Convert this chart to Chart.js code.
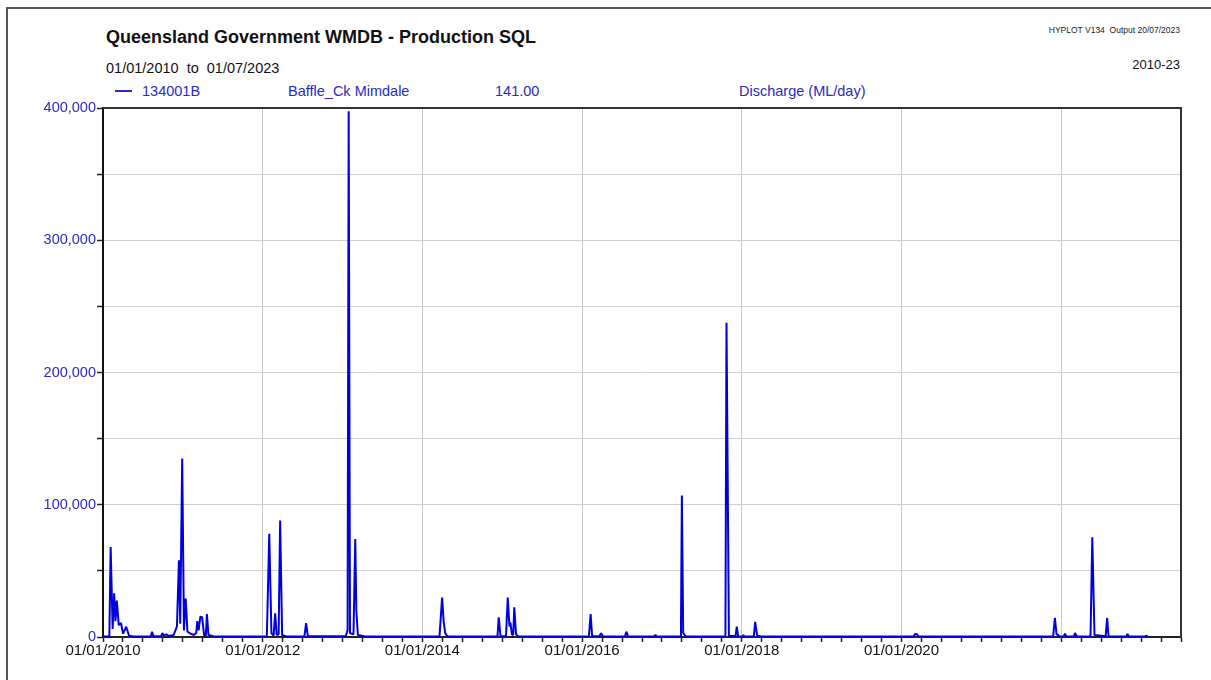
<!DOCTYPE html>
<html>
<head>
<meta charset="utf-8">
<script src="https://cdn.jsdelivr.net/npm/chart.js@4/dist/chart.umd.min.js"></script>
<style>
  html, body { margin: 0; padding: 0; background: #fff; }
  body { width: 1211px; height: 680px; position: relative; overflow: hidden;
         font-family: "Liberation Sans", Arial, sans-serif; }
  #frame { position: absolute; left: 6px; top: 7px; width: 1300px; height: 800px;
           border-left: 2px solid #555; border-top: 2px solid #555; }
  .t { position: absolute; white-space: pre; line-height: 1; }
  #title { left: 106px; top: 28px; font-size: 18px; font-weight: bold; color: #111; }
  #range { left: 106px; top: 61px; font-size: 14.5px; color: #111; }
  #hyplot { right: 31px; top: 26px; font-size: 8.5px; color: #222; }
  #period { right: 31px; top: 58px; font-size: 13px; color: #111; }
  .lg { top: 84px; font-size: 14.5px; color: #2a2ac0; }
  #lgline { position: absolute; left: 115px; top: 90px; width: 17px; height: 2px; background: #2a2ac0; }
  canvas { position: absolute; left: 0; top: 0; }
</style>
</head>
<body>
<div id="frame"></div>
<div class="t" id="title">Queensland Government WMDB - Production SQL</div>
<div class="t" id="range">01/01/2010  to  01/07/2023</div>
<div class="t" id="hyplot">HYPLOT V134  Output 20/07/2023</div>
<div class="t" id="period">2010-23</div>
<div id="lgline"></div>
<div class="t lg" style="left:142px">134001B</div>
<div class="t lg" style="left:288px">Baffle_Ck Mimdale</div>
<div class="t lg" style="left:495px">141.00</div>
<div class="t lg" style="left:739px">Discharge (ML/day)</div>
<canvas id="c" width="1211" height="680"></canvas>
<script>
// ---- data (daily discharge, ML/day) ----
const dates = [
  "2010-01-01","2010-01-30","2010-02-05","2010-02-14","2010-02-21","2010-02-27","2010-03-05","2010-03-14",
  "2010-03-24","2010-04-03","2010-04-17","2010-04-30","2010-05-20","2010-08-08","2010-08-13","2010-08-20",
  "2010-09-24","2010-09-29","2010-10-06","2010-10-18","2010-10-28","2010-11-20","2010-12-05","2010-12-14",
  "2010-12-20","2010-12-29","2011-01-06","2011-01-14","2011-01-22","2011-02-05","2011-02-20","2011-03-03",
  "2011-03-08","2011-03-14","2011-03-22","2011-03-30","2011-04-08","2011-04-16","2011-04-21","2011-04-28",
  "2011-05-20","2011-08-01","2012-01-20","2012-01-31","2012-02-10","2012-02-20","2012-02-27","2012-03-05",
  "2012-03-14","2012-03-21","2012-03-30","2012-04-20","2012-07-10","2012-07-18","2012-07-26","2013-01-15",
  "2013-01-24","2013-01-29","2013-02-04","2013-02-20","2013-02-28","2013-03-05","2013-03-12","2013-04-10",
  "2014-03-20","2014-04-01","2014-04-08","2014-04-15","2014-04-25","2014-12-10","2014-12-16","2014-12-24",
  "2015-01-18","2015-01-26","2015-02-03","2015-02-07","2015-02-14","2015-02-20","2015-02-25","2015-03-05",
  "2015-03-15","2016-02-01","2016-02-09","2016-02-16","2016-03-20","2016-03-28","2016-04-05","2016-07-15",
  "2016-07-22","2016-07-30","2016-11-25","2016-12-02","2016-12-09","2017-03-25","2017-03-29","2017-04-02",
  "2017-04-08","2017-04-20","2017-10-18","2017-10-23","2017-11-03","2017-12-03","2017-12-09","2017-12-15",
  "2018-01-03","2018-01-08","2018-01-14","2018-02-25","2018-03-03","2018-03-12","2018-04-01","2020-02-25",
  "2020-03-03","2020-03-12","2020-03-20","2021-11-25","2021-12-03","2021-12-11","2021-12-16","2021-12-24",
  "2022-01-12","2022-01-18","2022-01-25","2022-02-28","2022-03-05","2022-03-12","2022-03-25","2022-05-15",
  "2022-05-23","2022-06-02","2022-07-23","2022-07-30","2022-08-05","2022-10-25","2022-10-31","2022-11-06",
  "2023-01-20","2023-01-26","2023-01-31"
];
const discharge = [
  300,500,68000,6000,33000,12000,27500,9000,
  10600,2500,7800,1000,300,300,4000,500,
  500,3000,1200,2000,800,1500,8000,58000,
  10000,135000,5000,29000,4000,2500,1500,3000,
  12000,5000,15400,15000,1500,1000,17400,1500,
  600,300,300,78000,3000,1000,18000,1500,
  2000,88000,1500,300,300,10400,500,500,
  5000,397500,3000,2000,74000,20000,1500,500,
  300,29800,12000,3000,500,300,14900,500,
  500,29800,8000,11000,2000,1500,22500,2000,
  500,300,17400,500,500,2800,500,300,
  4000,300,300,1500,300,500,10000,107000,
  3000,500,300,237600,1000,500,7800,500,
  300,1500,300,500,11400,1000,300,300,
  2300,2000,300,300,14400,1500,2000,300,
  300,2500,300,300,3000,800,300,500,
  75500,1500,500,14400,500,300,2300,300,
  300,1000,300
];
const xMin = 2010, xMax = 2023.5, xStep = 0.25;
const yMin = 0, yMax = 400000, yStep = 50000;
const labelYears = [2010, 2012, 2014, 2016, 2018, 2020];
const gridYears = [2012, 2014, 2016, 2018, 2020, 2022];

function decYear(s) {
  const [y, m, d] = s.split('-').map(Number);
  const a = Date.UTC(y, 0, 1), b = Date.UTC(y + 1, 0, 1);
  return y + (Date.UTC(y, m - 1, d) - a) / (b - a);
}
const points = dates.map((d, i) => ({ x: decYear(d), y: discharge[i] }));

Chart.defaults.font.family = '"Liberation Sans", Arial, sans-serif';

const framePlugin = {
  id: 'frame',
  beforeDatasetsDraw(chart) {
    const { ctx, chartArea: a } = chart;
    ctx.save();
    ctx.strokeStyle = '#333';
    ctx.lineWidth = 2;
    ctx.beginPath();
    ctx.moveTo(a.left, a.top); ctx.lineTo(a.right, a.top); ctx.lineTo(a.right, a.bottom);
    ctx.stroke();
    ctx.restore();
  }
};

new Chart(document.getElementById('c'), {
  type: 'line',
  data: {
    datasets: [{
      data: points,
      borderColor: '#0000dc',
      borderWidth: 2,
      pointRadius: 0,
      tension: 0,
      fill: false,
      borderJoinStyle: 'bevel',
      clip: 4
    }]
  },
  options: {
    responsive: false,
    animation: false,
    devicePixelRatio: 1,
    layout: { padding: { left: 0, top: 108, right: 30, bottom: 0 } },
    plugins: { legend: { display: false }, title: { display: false }, tooltip: { enabled: false } },
    scales: {
      x: {
        type: 'linear',
        min: xMin, max: xMax,
        afterFit: s => { s.height = 43; },
        border: { color: '#222', width: 2 },
        grid: {
          color: c => gridYears.includes(c.tick && c.tick.value) ? '#c8c8c8' : 'rgba(0,0,0,0)',
          tickColor: '#222',
          tickLength: 5,
          tickWidth: 1.5,
          lineWidth: 1
        },
        ticks: {
          stepSize: xStep,
          autoSkip: false,
          maxRotation: 0,
          minRotation: 0,
          padding: 0,
          color: '#111',
          font: { size: 15 },
          callback: v => labelYears.includes(v) ? '01/01/' + v : ''
        }
      },
      y: {
        min: yMin, max: yMax,
        afterFit: s => { s.width = 103; },
        border: { color: '#111', width: 2 },
        grid: { color: '#d0d0d0', tickColor: '#222', tickLength: 6, tickWidth: 1.5, lineWidth: 1 },
        ticks: {
          stepSize: yStep,
          autoSkip: false,
          padding: 1,
          color: '#2a2ac0',
          font: { size: 14.5 },
          callback: v => v % 100000 === 0 ? v.toLocaleString('en-US') : ''
        }
      }
    }
  },
  plugins: [framePlugin]
});
</script>
</body>
</html>
